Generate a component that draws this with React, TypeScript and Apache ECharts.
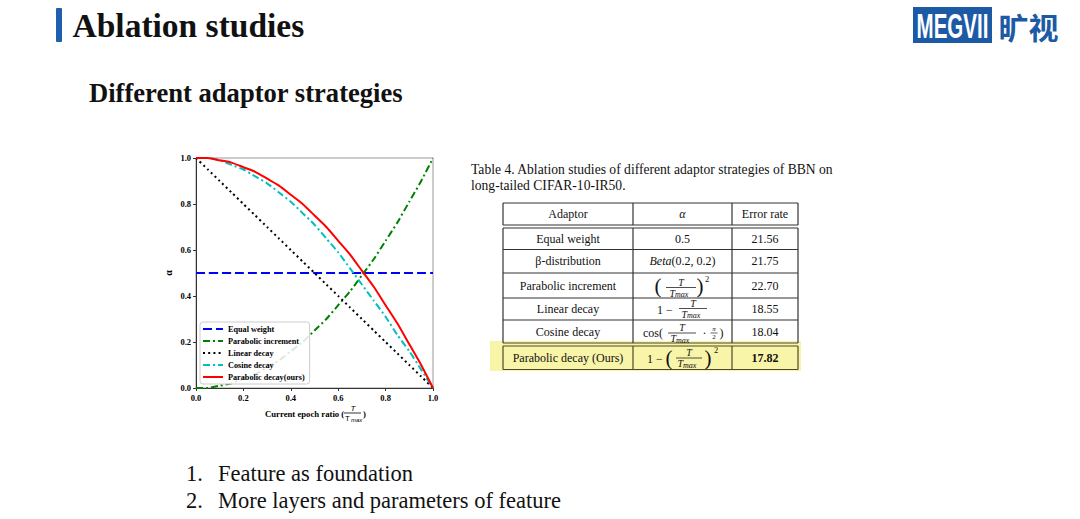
import React, { useEffect, useRef } from "react";
import * as echarts from "echarts";

// ---- chart data ----
const xs = [0, 0.05, 0.1, 0.15, 0.2, 0.25, 0.3, 0.35, 0.4, 0.45, 0.5, 0.55, 0.6, 0.65, 0.7, 0.75, 0.8, 0.85, 0.9, 0.95, 1.0];
const equalWeight = [0.5, 0.5, 0.5, 0.5, 0.5, 0.5, 0.5, 0.5, 0.5, 0.5, 0.5, 0.5, 0.5, 0.5, 0.5, 0.5, 0.5, 0.5, 0.5, 0.5, 0.5];
const parabolicIncrement = [0.0, 0.0, 0.01, 0.02, 0.04, 0.06, 0.09, 0.12, 0.16, 0.2, 0.25, 0.3, 0.36, 0.42, 0.49, 0.56, 0.64, 0.72, 0.81, 0.9, 1.0];
const linearDecay = [1.0, 0.95, 0.9, 0.85, 0.8, 0.75, 0.7, 0.65, 0.6, 0.55, 0.5, 0.45, 0.4, 0.35, 0.3, 0.25, 0.2, 0.15, 0.1, 0.05, 0.0];
const cosineDecay = [1.0, 1.0, 0.99, 0.97, 0.95, 0.92, 0.89, 0.85, 0.81, 0.76, 0.71, 0.65, 0.59, 0.52, 0.45, 0.38, 0.31, 0.23, 0.16, 0.08, 0.0];
const parabolicDecay = [1.0, 1.0, 0.99, 0.98, 0.96, 0.94, 0.91, 0.88, 0.84, 0.8, 0.75, 0.7, 0.64, 0.58, 0.51, 0.44, 0.36, 0.28, 0.19, 0.1, 0.0];
const seriesNames = ["Equal weight", "Parabolic increment", "Linear decay", "Cosine decay", "Parabolic decay(ours)"];

// ---- table data ----
const tableHeaders = ["Adaptor", "α", "Error rate"];
const adaptors = ["Equal weight", "β-distribution", "Parabolic increment", "Linear decay", "Cosine decay", "Parabolic decay (Ours)"];
const errorRates = ["21.56", "21.75", "22.70", "18.55", "18.04", "17.82"];
const captionLines = ["Table 4. Ablation studies of different adaptor strategies of BBN on", "long-tailed CIFAR-10-IR50."];
const listItems = ["Feature as foundation", "More layers and parameters of feature"];

const SERIF = "Liberation Serif";
const SANS = "Liberation Sans";

function txt(x: number, y: number, text: string, size: number, opts: any = {}) {
  return {
    type: "text",
    x,
    y,
    silent: true,
    scaleX: opts.scaleX || 1,
    style: {
      text,
      fontFamily: opts.family || SERIF,
      fontSize: size,
      fontWeight: opts.weight || "normal",
      fontStyle: opts.italic ? "italic" : "normal",
      fill: opts.fill || "#111",
      align: opts.align || "center",
      verticalAlign: opts.va || "middle",
    },
  };
}

function frac(cx: number, cy: number, w: number) {
  return [
    txt(cx, cy - 0.5, "T", 10, { va: "bottom", italic: true }),
    {
      type: "line",
      silent: true,
      shape: { x1: cx - w / 2, y1: cy, x2: cx + w / 2, y2: cy },
      style: { stroke: "#222", lineWidth: 0.8 },
    },
    txt(cx - 6, cy + 0.5, "T", 10, { va: "top", align: "right", italic: true }),
    txt(cx - 6, cy + 3, "max", 8, { va: "top", align: "left", italic: true }),
  ];
}

function buildTable() {
  const L = 503, C1 = 633, C2 = 732, R = 798;
  const els: any[] = [];
  const fs = 12;
  els.push({
    type: "rect",
    silent: true,
    shape: { x: 490, y: 341, width: 311, height: 30 },
    style: { fill: "#f8f4a8" },
  });
  els.push(txt(471, 169, captionLines[0], 13.6, { align: "left" }));
  els.push(txt(471, 185, captionLines[1], 13.6, { align: "left" }));
  const hLines = [203, 225, 228, 249.5, 273, 298, 320, 343, 346, 369.5];
  hLines.forEach((y) => {
    els.push({
      type: "line",
      silent: true,
      shape: { x1: L, y1: y, x2: R, y2: y },
      style: { stroke: y > 340 ? "#4a4a2a" : "#333", lineWidth: 1.2 },
    });
  });
  const segs = [[203, 225], [228, 343], [346, 369.5]];
  [L, C1, C2, R].forEach((x) => {
    segs.forEach(([a, b]) => {
      els.push({
        type: "line",
        silent: true,
        shape: { x1: x, y1: a, x2: x, y2: b },
        style: { stroke: a > 340 ? "#4a4a2a" : "#333", lineWidth: 1.2 },
      });
    });
  });
  els.push(txt((L + C1) / 2, 214, tableHeaders[0], fs));
  els.push(txt((C1 + C2) / 2, 214, tableHeaders[1], fs, { italic: true }));
  els.push(txt((C2 + R) / 2, 214, tableHeaders[2], fs));
  const rowY = [239, 261, 285.5, 309, 331.5, 358];
  adaptors.forEach((a, i) => {
    els.push(txt((L + C1) / 2, rowY[i], a, fs));
    els.push(txt((C2 + R) / 2, rowY[i], errorRates[i], fs, { weight: i === 5 ? "bold" : "normal" }));
  });
  const ax = (C1 + C2) / 2;
  els.push(txt(ax, rowY[0], "0.5", fs));
  els.push({
    type: "text",
    x: ax,
    y: rowY[1],
    silent: true,
    style: {
      text: "{i|Beta}{n|(0.2, 0.2)}",
      align: "center",
      verticalAlign: "middle",
      rich: {
        i: { fontFamily: SERIF, fontStyle: "italic", fontSize: 12, fill: "#111" },
        n: { fontFamily: SERIF, fontSize: 12, fill: "#111" },
      },
    },
  });
  // (T/Tmax)^2
  els.push(txt(658, 286, "(", 21));
  els.push(...frac(681, 287.5, 30));
  els.push(txt(700, 286, ")", 21));
  els.push(txt(707, 278.5, "2", 8.5));
  // 1 - T/Tmax
  els.push(txt(665, 310, "1 −", fs));
  els.push(...frac(693, 308.5, 28));
  // cos(T/Tmax * pi/2)
  els.push(txt(643, 332.5, "cos(", fs, { align: "left" }));
  els.push(...frac(682, 333, 28));
  els.push(txt(704.5, 332.5, "·", fs));
  els.push(txt(714, 332.5, "π", 7, { va: "bottom", italic: true }));
  els.push({
    type: "line",
    silent: true,
    shape: { x1: 710.5, y1: 333, x2: 717.5, y2: 333 },
    style: { stroke: "#222", lineWidth: 0.7 },
  });
  els.push(txt(714, 333.5, "2", 7, { va: "top" }));
  els.push(txt(721.5, 332.5, ")", fs));
  // 1 - (T/Tmax)^2
  els.push(txt(655, 358.5, "1 −", fs));
  els.push(txt(669, 358, "(", 21));
  els.push(...frac(689, 358, 26));
  els.push(txt(708, 358, ")", 21));
  els.push(txt(716, 350, "2", 8.5));
  return els;
}

function buildSlide() {
  const els: any[] = [];
  els.push({
    type: "rect",
    silent: true,
    shape: { x: 56, y: 8, width: 6, height: 34, r: 1 },
    style: { fill: "#1f5fae" },
  });
  els.push(txt(72.5, 25, "Ablation studies", 33.5, { align: "left", weight: "bold" }));
  els.push(txt(89, 93, "Different adaptor strategies", 26.6, { align: "left", weight: "bold" }));
  // logo
  els.push({
    type: "rect",
    silent: true,
    shape: { x: 913, y: 7, width: 79, height: 36 },
    style: { fill: "#1c5aa6" },
  });
  els.push(txt(952.5, 25.5, "MEGVII", 36, { family: SANS, weight: "bold", fill: "#ffffff", scaleX: 0.57 }));
  els.push(txt(1028.5, 26, "旷视", 30, { family: "Noto Sans CJK SC", weight: "bold", fill: "#1c5aa6" }));
  // list
  els.push(txt(186, 473, "1.", 22.5, { align: "left" }));
  els.push(txt(218, 473, listItems[0], 22.5, { align: "left" }));
  els.push(txt(186, 500, "2.", 22.5, { align: "left" }));
  els.push(txt(218, 500, listItems[1], 22.5, { align: "left" }));
  // x-axis name of plot
  els.push(txt(265, 413.5, "Current epoch ratio (", 8.7, { align: "left", weight: "bold", fill: "#000" }));
  els.push(txt(353, 412, "T", 8, { va: "bottom", italic: true, family: SANS, fill: "#000" }));
  els.push({
    type: "line",
    silent: true,
    shape: { x1: 344, y1: 413, x2: 361, y2: 413 },
    style: { stroke: "#000", lineWidth: 0.8 },
  });
  els.push(txt(347.5, 414, "T", 8, { va: "top", family: SANS, fill: "#000" }));
  els.push(txt(351, 416.5, "max", 6, { va: "top", align: "left", italic: true, family: SANS, fill: "#000" }));
  els.push(txt(363, 413.5, ")", 8.7, { align: "left", weight: "bold", fill: "#000" }));
  return els;
}

export default function App() {
  const ref = useRef<HTMLDivElement>(null);
  useEffect(() => {
    if (!ref.current) return;
    const chart = echarts.init(ref.current, null, { renderer: "svg" });
    const mk = (arr: number[]) => xs.map((x, i) => [x, arr[i]]);
    const styles = [
      { color: "#0000ff", type: [9, 4] },
      { color: "#008000", type: [7, 3, 2, 3] },
      { color: "#000000", type: [2, 3.2] },
      { color: "#00bfbf", type: [7, 3, 2, 3] },
      { color: "#ff0000", type: "solid" },
    ];
    const datas = [equalWeight, parabolicIncrement, linearDecay, cosineDecay, parabolicDecay];
    const axisLabel = {
      fontFamily: SERIF,
      fontWeight: "bold",
      fontSize: 8.5,
      color: "#000",
      margin: 5,
      formatter: (v: number) => v.toFixed(1),
    };
    chart.setOption({
      animation: false,
      backgroundColor: "#ffffff",
      grid: {
        left: 196,
        top: 158,
        width: 237,
        height: 230,
        show: true,
        borderColor: "#999",
        borderWidth: 1,
        backgroundColor: "transparent",
      },
      xAxis: {
        type: "value",
        min: 0,
        max: 1,
        interval: 0.2,
        axisLine: { show: true, lineStyle: { color: "#333", width: 1 } },
        axisTick: { show: true, inside: false, length: 3, lineStyle: { color: "#333" } },
        splitLine: { show: false },
        axisLabel,
      },
      yAxis: {
        type: "value",
        min: 0,
        max: 1,
        interval: 0.2,
        name: "α",
        nameLocation: "middle",
        nameGap: 23,
        nameRotate: 90,
        nameTextStyle: { fontFamily: SERIF, fontWeight: "bold", fontSize: 10, color: "#000" },
        axisLine: { show: true, lineStyle: { color: "#333", width: 1 } },
        axisTick: { show: true, inside: false, length: 3, lineStyle: { color: "#333" } },
        splitLine: { show: false },
        axisLabel,
      },
      legend: {
        orient: "vertical",
        left: 200,
        top: 322,
        itemWidth: 20,
        itemHeight: 8,
        itemGap: 4,
        padding: [3, 5, 3, 2],
        backgroundColor: "rgba(255,255,255,0.85)",
        borderColor: "#ccc",
        borderWidth: 1,
        borderRadius: 3,
        itemStyle: { opacity: 0 },
        textStyle: { fontFamily: SERIF, fontWeight: "bold", fontSize: 8.2, color: "#000" },
        data: seriesNames,
      },
      series: seriesNames.map((name, i) => ({
        name,
        type: "line",
        data: mk(datas[i]),
        smooth: 0.2,
        symbol: "none",
        showSymbol: false,
        z: 2 + i,
        lineStyle: { color: styles[i].color, width: 2, type: styles[i].type as any },
        itemStyle: { color: styles[i].color },
      })),
      graphic: [...buildTable(), ...buildSlide()],
    });
    return () => chart.dispose();
  }, []);
  return (
    <div
      ref={ref}
      style={{ position: "absolute", left: 0, top: 0, width: 1080, height: 519, background: "#fff" }}
    />
  );
}
